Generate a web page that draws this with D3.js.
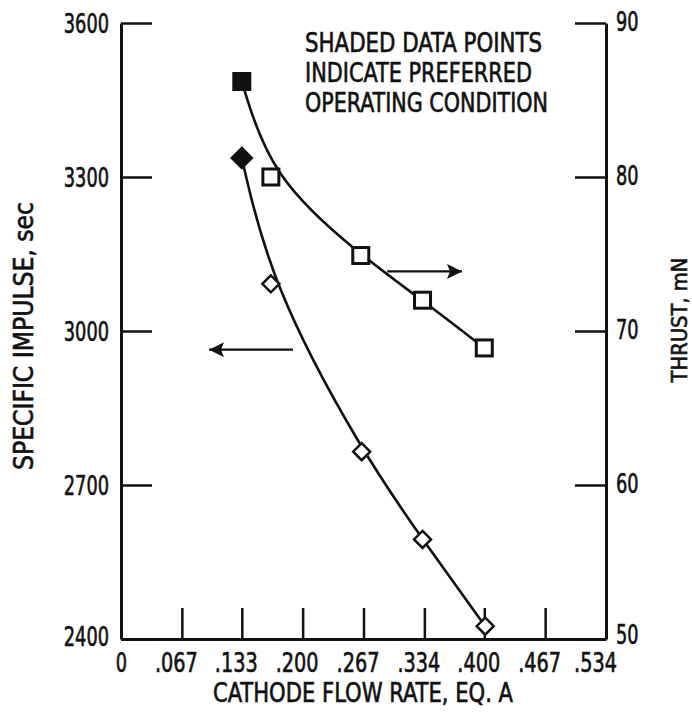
<!DOCTYPE html>
<html>
<head>
<meta charset="utf-8">
<script src="https://cdn.jsdelivr.net/npm/d3@7"></script>
<style>
  body { margin: 0; background: #fff; }
  text { font-family: "DejaVu Sans Condensed", "Liberation Sans Narrow", sans-serif; fill: #111; stroke: #111; stroke-width: 0.6px; }
</style>
</head>
<body>
<script>
//Datos
var flowRate = [0.133, 0.165, 0.264, 0.332, 0.400];
var flowRateIsp = [0.133, 0.165, 0.265, 0.332, 0.401];
var specificImpulse = [3337, 3092, 2765, 2594, 2425];
var thrust = [86.2, 80.0, 74.9, 72.0, 68.9];
var preferred = 0; //indice del punto sombreado

var xTicks = [0, 0.067, 0.133, 0.200, 0.267, 0.334, 0.400, 0.467, 0.534];
var xTickLabels = ["0", ".067", ".133", ".200", ".267", ".334", ".400", ".467", ".534"];
var ispTicks = [2400, 2700, 3000, 3300, 3600];
var thrustTicks = [50, 60, 70, 80, 90];
var noteLines = ["SHADED DATA POINTS", "INDICATE PREFERRED", "OPERATING CONDITION"];

//Parametros generales
var margin = { top: 23, right: 86, bottom: 73, left: 121 },
    width = 692 - margin.left - margin.right,
    height = 712 - margin.top - margin.bottom,
    ink = "#111",
    fontSize = 26;

//Ancho de una etiqueta numerica (digitos estrechos)
var labelWidth = function(s) {
  return s.replace(".", "").length * 11.3 + (s.indexOf(".") >= 0 ? 9 : 0);
};

var svg = d3.select("body")
  .append("svg")
  .attr("width", 692)
  .attr("height", 712)
  .append("g")
  .attr("transform", "translate(" + margin.left + "," + margin.top + ")");

var x = d3.scaleLinear().domain([0, 0.534]).range([0, width]);
var yIsp = d3.scaleLinear().domain([2400, 3600]).range([height, 0]);
var yThrust = d3.scaleLinear().domain([50, 90]).range([height, 0]);

//Ejes
var gx = svg.append("g")
  .attr("transform", "translate(0," + height + ")")
  .call(d3.axisBottom(x).tickValues(xTicks).tickFormat(function(d, i) { return xTickLabels[i]; })
    .tickSize(-31).tickSizeOuter(0).tickPadding(8));

var gl = svg.append("g")
  .call(d3.axisLeft(yIsp).tickValues(ispTicks).tickFormat(d3.format("d"))
    .tickSize(-31).tickSizeOuter(0).tickPadding(12));

var gr = svg.append("g")
  .attr("transform", "translate(" + width + ",0)")
  .call(d3.axisRight(yThrust).tickValues(thrustTicks).tickFormat(d3.format("d"))
    .tickSize(-31).tickSizeOuter(0).tickPadding(10));

[gx, gl, gr].forEach(function(g) {
  g.select(".domain").attr("stroke", ink).attr("stroke-width", 3);
  g.selectAll(".tick line").attr("stroke", ink).attr("stroke-width", 2.5);
  g.selectAll(".tick text")
    .attr("font-size", fontSize).style("font-family", null).attr("fill", ink)
    .attr("textLength", function() { return labelWidth(this.textContent); })
    .attr("lengthAdjust", "spacingAndGlyphs");
});
gx.selectAll(".tick text")
  .attr("dx", function(d, i) { return i === 0 ? 0 : (i === xTicks.length - 1 ? -11 : -6); })
  .attr("dy", "0.95em");
gl.selectAll(".tick text").attr("dy", function(d) { return d === 2400 ? "0.26em" : "0.36em"; });
gr.selectAll(".tick text").attr("dy", function(d) { return d === 50 ? "0.18em" : "0.3em"; });

//Titulos de ejes
svg.append("text")
  .attr("text-anchor", "middle")
  .attr("x", 363 - margin.left)
  .attr("y", 702 - margin.top)
  .attr("font-size", fontSize)
  .attr("textLength", 300).attr("lengthAdjust", "spacingAndGlyphs")
  .text("CATHODE FLOW RATE, EQ. A");

svg.append("text")
  .attr("text-anchor", "middle")
  .attr("transform", "translate(" + (33 - margin.left) + "," + (336 - margin.top) + ") rotate(-90)")
  .attr("font-size", fontSize)
  .attr("textLength", 268).attr("lengthAdjust", "spacingAndGlyphs")
  .text("SPECIFIC IMPULSE, sec");

svg.append("text")
  .attr("text-anchor", "middle")
  .attr("transform", "translate(" + (687 - margin.left) + "," + (320 - margin.top) + ") rotate(-90)")
  .attr("font-size", 22)
  .attr("textLength", 125).attr("lengthAdjust", "spacingAndGlyphs")
  .text("THRUST, mN");

//Nota
var noteWidths = [237, 227, 243];
svg.append("g").selectAll("text")
  .data(noteLines)
  .enter()
  .append("text")
  .attr("x", x(0.2026))
  .attr("y", function(d, i) { return 29 + i * 30; })
  .attr("font-size", fontSize)
  .attr("textLength", function(d, i) { return noteWidths[i]; })
  .attr("lengthAdjust", "spacingAndGlyphs")
  .text(function(d) { return d; });

//Curvas
var lineThrust = d3.line()
  .x(function(d, i) { return x(flowRate[i]); })
  .y(function(d) { return yThrust(d); })
  .curve(d3.curveBasis);

var lineIsp = d3.line()
  .x(function(d, i) { return x(flowRateIsp[i]); })
  .y(function(d) { return yIsp(d); })
  .curve(d3.curveBasis);

svg.append("path").datum(thrust)
  .attr("fill", "none").attr("stroke", ink).attr("stroke-width", 2.6)
  .attr("d", lineThrust);

svg.append("path").datum(specificImpulse)
  .attr("fill", "none").attr("stroke", ink).attr("stroke-width", 2.6)
  .attr("d", lineIsp);

//Flechas
var defs = d3.select("svg").append("defs");
defs.append("marker")
  .attr("id", "head")
  .attr("viewBox", "0 0 10 10")
  .attr("refX", 10).attr("refY", 5)
  .attr("markerWidth", 10).attr("markerHeight", 6.5)
  .attr("markerUnits", "strokeWidth")
  .attr("orient", "auto")
  .append("path").attr("d", "M0,0 L10,5 L0,10 L2,5 Z").attr("fill", ink);

svg.append("line")
  .attr("x1", x(0.293)).attr("x2", x(0.3754))
  .attr("y1", yThrust(73.87)).attr("y2", yThrust(73.87))
  .attr("stroke", ink).attr("stroke-width", 2.3)
  .attr("marker-end", "url(#head)");

svg.append("line")
  .attr("x1", x(0.1894)).attr("x2", x(0.0969))
  .attr("y1", yIsp(2963.6)).attr("y2", yIsp(2963.6))
  .attr("stroke", ink).attr("stroke-width", 2.3)
  .attr("marker-end", "url(#head)");

//Puntos de empuje (cuadrados)
svg.append("g")
  .selectAll("rect")
  .data(thrust)
  .enter()
  .append("rect")
  .attr("x", function(d, i) { return x(flowRate[i]) - 8; })
  .attr("y", function(d) { return yThrust(d) - 8; })
  .attr("width", 16).attr("height", 16)
  .attr("fill", function(d, i) { return i === preferred ? ink : "#fff"; })
  .attr("stroke", ink).attr("stroke-width", 3);

//Puntos de impulso especifico (rombos)
svg.append("g")
  .selectAll("path")
  .data(specificImpulse)
  .enter()
  .append("path")
  .attr("transform", function(d, i) { return "translate(" + x(flowRateIsp[i]) + "," + yIsp(d) + ")"; })
  .attr("d", function(d, i) { var r = i === preferred ? 10 : 8.5; return "M0," + (-r) + "L" + r + ",0L0," + r + "L" + (-r) + ",0Z"; })
  .attr("fill", function(d, i) { return i === preferred ? ink : "#fff"; })
  .attr("stroke", ink).attr("stroke-width", 2.5)
  .attr("stroke-linejoin", "miter");
</script>
</body>
</html>
